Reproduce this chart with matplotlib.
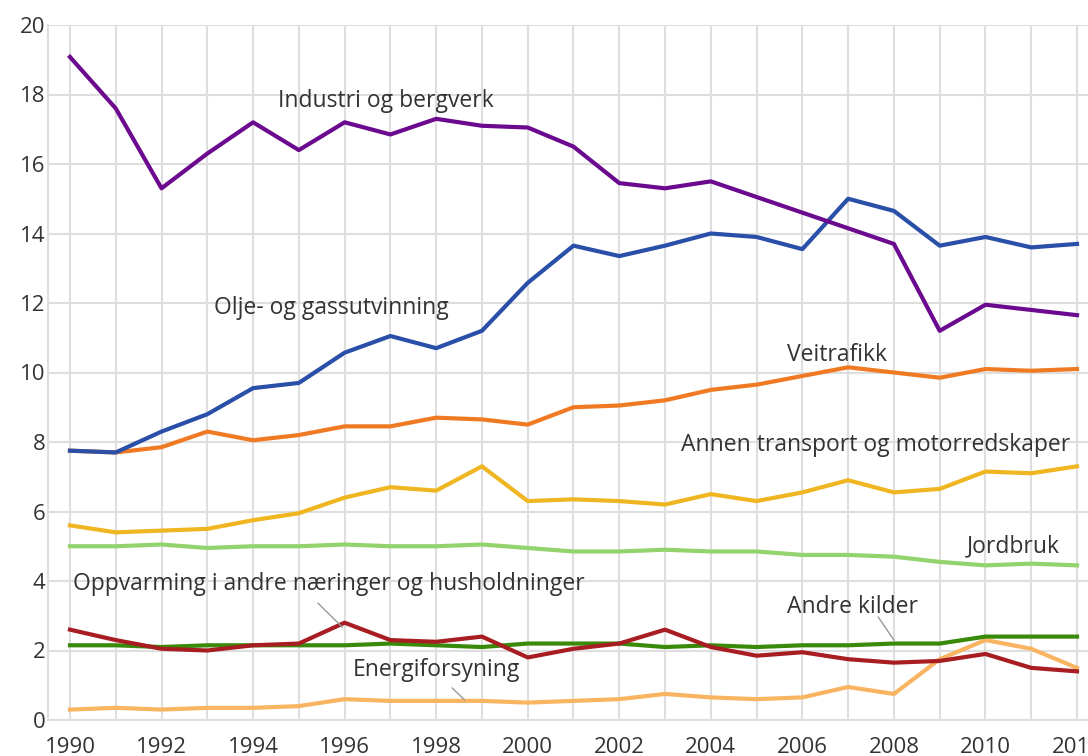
import matplotlib.pyplot as plt

plt.rcParams['font.family'] = ['Open Sans', 'DejaVu Sans']

years = list(range(1990, 2013))

industri = [19.08, 17.6, 15.3, 16.3, 17.2, 16.4, 17.2, 16.85, 17.3, 17.1, 17.05, 16.5,
            15.45, 15.3, 15.5, 15.05, 14.6, 14.15, 13.7, 11.2, 11.95, 11.8, 11.65]
olje = [7.75, 7.7, 8.3, 8.8, 9.55, 9.7, 10.57, 11.05, 10.7, 11.2, 12.58, 13.65,
        13.35, 13.65, 14.0, 13.9, 13.55, 15.0, 14.65, 13.65, 13.9, 13.6, 13.7]
veitrafikk = [7.75, 7.7, 7.85, 8.3, 8.05, 8.2, 8.45, 8.45, 8.7, 8.65, 8.5, 9.0,
              9.05, 9.2, 9.5, 9.65, 9.9, 10.15, 10.0, 9.85, 10.1, 10.05, 10.1]
annen = [5.6, 5.4, 5.45, 5.5, 5.75, 5.95, 6.4, 6.7, 6.6, 7.3, 6.3, 6.35,
         6.3, 6.2, 6.5, 6.3, 6.55, 6.9, 6.55, 6.65, 7.15, 7.1, 7.3]
jordbruk = [5.0, 5.0, 5.05, 4.95, 5.0, 5.0, 5.05, 5.0, 5.0, 5.05, 4.95, 4.85,
            4.85, 4.9, 4.85, 4.85, 4.75, 4.75, 4.7, 4.55, 4.45, 4.5, 4.45]
oppvarming = [2.6, 2.3, 2.05, 2.0, 2.15, 2.2, 2.8, 2.3, 2.25, 2.4, 1.8, 2.05,
              2.2, 2.6, 2.1, 1.85, 1.95, 1.75, 1.65, 1.7, 1.9, 1.5, 1.4]
andre = [2.15, 2.15, 2.1, 2.15, 2.15, 2.15, 2.15, 2.2, 2.15, 2.1, 2.2, 2.2,
         2.2, 2.1, 2.15, 2.1, 2.15, 2.15, 2.2, 2.2, 2.4, 2.4, 2.4]
energi = [0.3, 0.35, 0.3, 0.35, 0.35, 0.4, 0.6, 0.55, 0.55, 0.55, 0.5, 0.55,
          0.6, 0.75, 0.65, 0.6, 0.65, 0.95, 0.75, 1.75, 2.3, 2.05, 1.5]

fig = plt.figure(figsize=(10.88, 7.56), dpi=100)
ax = fig.add_axes([48 / 1088, 36 / 756, 1 - 48 / 1088, 695 / 756])

# drawing order: back to front
ax.plot(years, energi, color='#f9b462', lw=3, zorder=3)
ax.plot(years, andre, color='#3a8a0a', lw=3, zorder=3)
ax.plot(years, oppvarming, color='#a81d22', lw=3, zorder=4)
ax.plot(years, jordbruk, color='#92d36e', lw=3, zorder=3)
ax.plot(years, annen, color='#f0b621', lw=3, zorder=3)
ax.plot(years, veitrafikk, color='#f07a24', lw=3, zorder=3)
ax.plot(years, olje, color='#2a4fa8', lw=3, zorder=3)
ax.plot(years, industri, color='#6b0a8f', lw=3, zorder=3)

ax.set_xlim(1989.52, 2012.24)
ax.set_ylim(0, 20)
ax.set_xticks(years)
ax.set_xticklabels([str(y) if y % 2 == 0 else '' for y in years])
ax.set_yticks(range(0, 21, 2))
ax.grid(True, color='#dedede', lw=1.5, zorder=0)
ax.set_axisbelow(True)
for s in ['top', 'right']:
    ax.spines[s].set_visible(False)
ax.spines['left'].set_color('#dedede')
ax.spines['bottom'].set_color('#dedede')
ax.spines['left'].set_linewidth(1.5)
ax.spines['bottom'].set_linewidth(1.5)
ax.tick_params(length=0, labelsize=16, colors='#333333')
ax.tick_params(axis='x', pad=12)
ax.tick_params(axis='y', pad=2)

tc = '#333333'
fs = 16.5
ax.text(1996.9, 17.8, 'Industri og bergverk', ha='center', va='center', fontsize=fs, color=tc)
ax.text(1995.7, 11.85, 'Olje- og gassutvinning', ha='center', va='center', fontsize=fs, color=tc)
ax.text(2006.75, 10.5, 'Veitrafikk', ha='center', va='center', fontsize=fs, color=tc)
ax.text(2007.6, 7.9, 'Annen transport og motorredskaper', ha='center', va='center', fontsize=fs, color=tc)
ax.text(2010.6, 5.0, 'Jordbruk', ha='center', va='center', fontsize=fs, color=tc)
ax.text(1995.65, 3.9, 'Oppvarming i andre næringer og husholdninger', ha='center', va='center',
        fontsize=fs, color=tc)
ax.text(2007.1, 3.25, 'Andre kilder', ha='center', va='center', fontsize=fs, color=tc)
ax.text(1998.0, 1.45, 'Energiforsyning', ha='center', va='center', fontsize=fs, color=tc)

# leader lines
ax.plot([1995.42, 1995.95], [3.36, 2.67], color='#999999', lw=1, zorder=5)
ax.plot([2007.66, 2008.0], [2.96, 2.3], color='#999999', lw=1, zorder=5)
ax.plot([1998.35, 1998.62], [0.92, 0.58], color='#999999', lw=1, zorder=5)

fig.savefig('out.png', dpi=100)
